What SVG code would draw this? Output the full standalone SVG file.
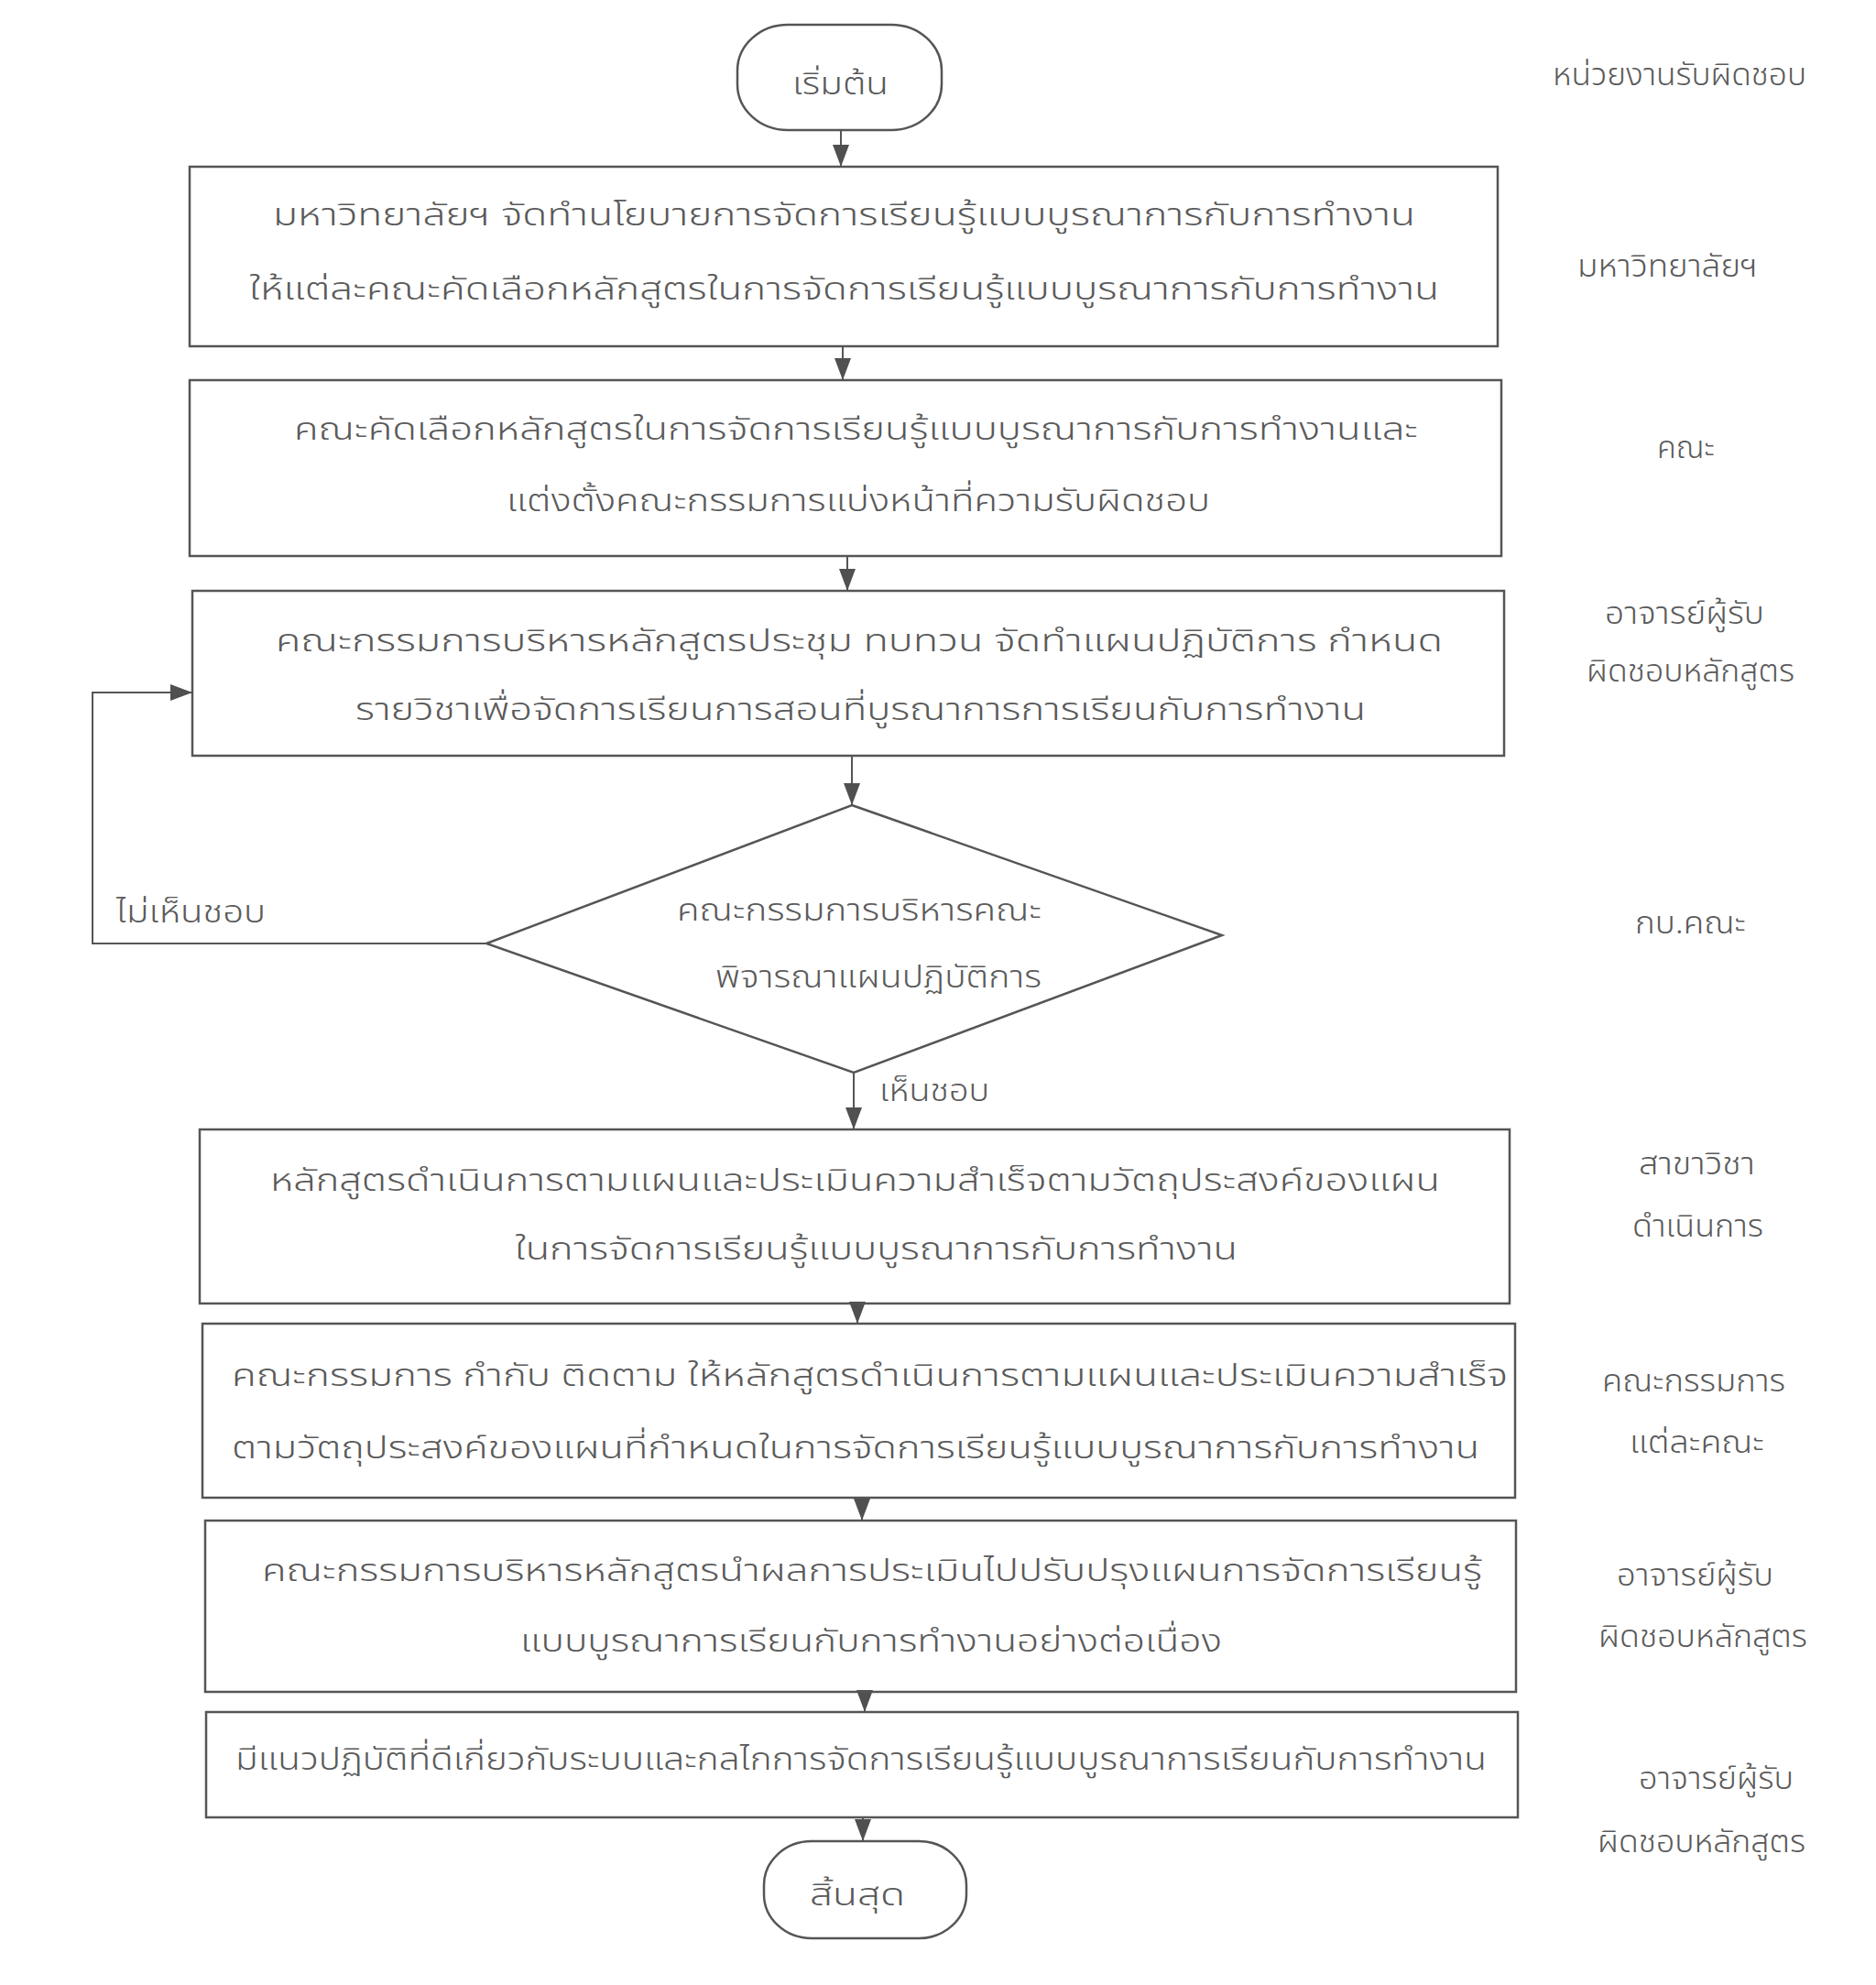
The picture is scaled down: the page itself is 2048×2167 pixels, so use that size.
<svg xmlns="http://www.w3.org/2000/svg" width="2048" height="2167" viewBox="0 0 2048 2167">
<defs>
<style>
.bg{fill:#ffffff}
.shape{fill:none;stroke:#555555;stroke-width:2.5}
.conn{fill:none;stroke:#555555;stroke-width:2}
.t{font-family:"Noto Sans Thai","Noto Sans","DejaVu Sans",sans-serif;font-size:34px;font-weight:300;fill:#5a5a5a}
</style>
<marker id="ah" markerUnits="userSpaceOnUse" viewBox="0 0 24 18" refX="24" refY="9" markerWidth="24" markerHeight="18" orient="auto">
<path d="M0,0 L24,9 L0,18 z" fill="#505050"/>
</marker>
</defs>
<rect class="bg" x="0" y="0" width="2048" height="2167"/>

<g id="header">
<text class="t" x="1695" y="93" textLength="277" lengthAdjust="spacingAndGlyphs">หน่วยงานรับผิดชอบ</text>
</g>

<g id="connectors">
<line class="conn" x1="918" y1="142" x2="918" y2="182" marker-end="url(#ah)"/>
<line class="conn" x1="920" y1="378" x2="920" y2="415" marker-end="url(#ah)"/>
<line class="conn" x1="925" y1="607" x2="925" y2="645" marker-end="url(#ah)"/>
<line class="conn" x1="930" y1="825" x2="930" y2="879" marker-end="url(#ah)"/>
<line class="conn" x1="932" y1="1171" x2="932" y2="1233" marker-end="url(#ah)"/>
<line class="conn" x1="936" y1="1423" x2="936" y2="1445" marker-end="url(#ah)"/>
<line class="conn" x1="941" y1="1635" x2="941" y2="1660" marker-end="url(#ah)"/>
<line class="conn" x1="944" y1="1847" x2="944" y2="1869" marker-end="url(#ah)"/>
<line class="conn" x1="942" y1="1984" x2="942" y2="2010" marker-end="url(#ah)"/>
<polyline class="conn" points="531,1030 101,1030 101,756 210,756" marker-end="url(#ah)"/>
<text class="t" x="127" y="1007" textLength="163" lengthAdjust="spacingAndGlyphs">ไม่เห็นชอบ</text>
<text class="t" x="960" y="1202" textLength="120" lengthAdjust="spacingAndGlyphs">เห็นชอบ</text>
</g>

<g id="start">
<rect class="shape" x="805" y="27" width="223" height="115" rx="55" ry="50"/>
<text class="t" x="865" y="103" textLength="105" lengthAdjust="spacingAndGlyphs">เริ่มต้น</text>
</g>

<g id="box1">
<rect class="shape" x="207" y="182" width="1428" height="196"/>
<text class="t" x="298" y="246" textLength="1247" lengthAdjust="spacingAndGlyphs">มหาวิทยาลัยฯ  จัดทำนโยบายการจัดการเรียนรู้แบบบูรณาการกับการทำงาน</text>
<text class="t" x="272" y="327" textLength="1299" lengthAdjust="spacingAndGlyphs">ให้แต่ละคณะคัดเลือกหลักสูตรในการจัดการเรียนรู้แบบบูรณาการกับการทำงาน</text>
</g>

<g id="box2">
<rect class="shape" x="207" y="415" width="1432" height="192"/>
<text class="t" x="321" y="480" textLength="1227" lengthAdjust="spacingAndGlyphs">คณะคัดเลือกหลักสูตรในการจัดการเรียนรู้แบบบูรณาการกับการทำงานและ</text>
<text class="t" x="553" y="558" textLength="768" lengthAdjust="spacingAndGlyphs">แต่งตั้งคณะกรรมการแบ่งหน้าที่ความรับผิดชอบ</text>
</g>

<g id="box3">
<rect class="shape" x="210" y="645" width="1432" height="180"/>
<text class="t" x="301" y="711" textLength="1274" lengthAdjust="spacingAndGlyphs">คณะกรรมการบริหารหลักสูตรประชุม  ทบทวน  จัดทำแผนปฏิบัติการ  กำหนด</text>
<text class="t" x="388" y="786" textLength="1103" lengthAdjust="spacingAndGlyphs">รายวิชาเพื่อจัดการเรียนการสอนที่บูรณาการการเรียนกับการทำงาน</text>
</g>

<g id="decision">
<polygon class="shape" points="930,879 1334,1021 932,1171 531,1030"/>
<text class="t" x="739" y="1005" textLength="398" lengthAdjust="spacingAndGlyphs">คณะกรรมการบริหารคณะ</text>
<text class="t" x="781" y="1078" textLength="356" lengthAdjust="spacingAndGlyphs">พิจารณาแผนปฏิบัติการ</text>
</g>

<g id="box4">
<rect class="shape" x="218" y="1233" width="1430" height="190"/>
<text class="t" x="295" y="1300" textLength="1277" lengthAdjust="spacingAndGlyphs">หลักสูตรดำเนินการตามแผนและประเมินความสำเร็จตามวัตถุประสงค์ของแผน</text>
<text class="t" x="562" y="1375" textLength="789" lengthAdjust="spacingAndGlyphs">ในการจัดการเรียนรู้แบบบูรณาการกับการทำงาน</text>
</g>

<g id="box5">
<rect class="shape" x="221" y="1445" width="1433" height="190"/>
<text class="t" x="253" y="1513" textLength="1393" lengthAdjust="spacingAndGlyphs">คณะกรรมการ กำกับ ติดตาม ให้หลักสูตรดำเนินการตามแผนและประเมินความสำเร็จ</text>
<text class="t" x="253" y="1592" textLength="1362" lengthAdjust="spacingAndGlyphs">ตามวัตถุประสงค์ของแผนที่กำหนดในการจัดการเรียนรู้แบบบูรณาการกับการทำงาน</text>
</g>

<g id="box6">
<rect class="shape" x="224" y="1660" width="1431" height="187"/>
<text class="t" x="286" y="1726" textLength="1332" lengthAdjust="spacingAndGlyphs">คณะกรรมการบริหารหลักสูตรนำผลการประเมินไปปรับปรุงแผนการจัดการเรียนรู้</text>
<text class="t" x="568" y="1803" textLength="766" lengthAdjust="spacingAndGlyphs">แบบบูรณาการเรียนกับการทำงานอย่างต่อเนื่อง</text>
</g>

<g id="box7">
<rect class="shape" x="225" y="1869" width="1432" height="115"/>
<text class="t" x="257" y="1932" textLength="1366" lengthAdjust="spacingAndGlyphs">มีแนวปฏิบัติที่ดีเกี่ยวกับระบบและกลไกการจัดการเรียนรู้แบบบูรณาการเรียนกับการทำงาน</text>
</g>

<g id="end">
<rect class="shape" x="834" y="2010" width="221" height="106" rx="52" ry="48"/>
<text class="t" x="884" y="2080" textLength="104" lengthAdjust="spacingAndGlyphs">สิ้นสุด</text>
</g>

<g id="responsible">
<text class="t" x="1722" y="302" textLength="197" lengthAdjust="spacingAndGlyphs">มหาวิทยาลัยฯ</text>
<text class="t" x="1809" y="500" textLength="63" lengthAdjust="spacingAndGlyphs">คณะ</text>
<text class="t" x="1752" y="681" textLength="174" lengthAdjust="spacingAndGlyphs">อาจารย์ผู้รับ</text>
<text class="t" x="1732" y="744" textLength="227" lengthAdjust="spacingAndGlyphs">ผิดชอบหลักสูตร</text>
<text class="t" x="1785" y="1019" textLength="121" lengthAdjust="spacingAndGlyphs">กบ.คณะ</text>
<text class="t" x="1789" y="1282" textLength="127" lengthAdjust="spacingAndGlyphs">สาขาวิชา</text>
<text class="t" x="1782" y="1350" textLength="143" lengthAdjust="spacingAndGlyphs">ดำเนินการ</text>
<text class="t" x="1749" y="1519" textLength="200" lengthAdjust="spacingAndGlyphs">คณะกรรมการ</text>
<text class="t" x="1779" y="1586" textLength="147" lengthAdjust="spacingAndGlyphs">แต่ละคณะ</text>
<text class="t" x="1765" y="1731" textLength="171" lengthAdjust="spacingAndGlyphs">อาจารย์ผู้รับ</text>
<text class="t" x="1745" y="1798" textLength="228" lengthAdjust="spacingAndGlyphs">ผิดชอบหลักสูตร</text>
<text class="t" x="1789" y="1953" textLength="169" lengthAdjust="spacingAndGlyphs">อาจารย์ผู้รับ</text>
<text class="t" x="1744" y="2022" textLength="227" lengthAdjust="spacingAndGlyphs">ผิดชอบหลักสูตร</text>
</g>
</svg>
